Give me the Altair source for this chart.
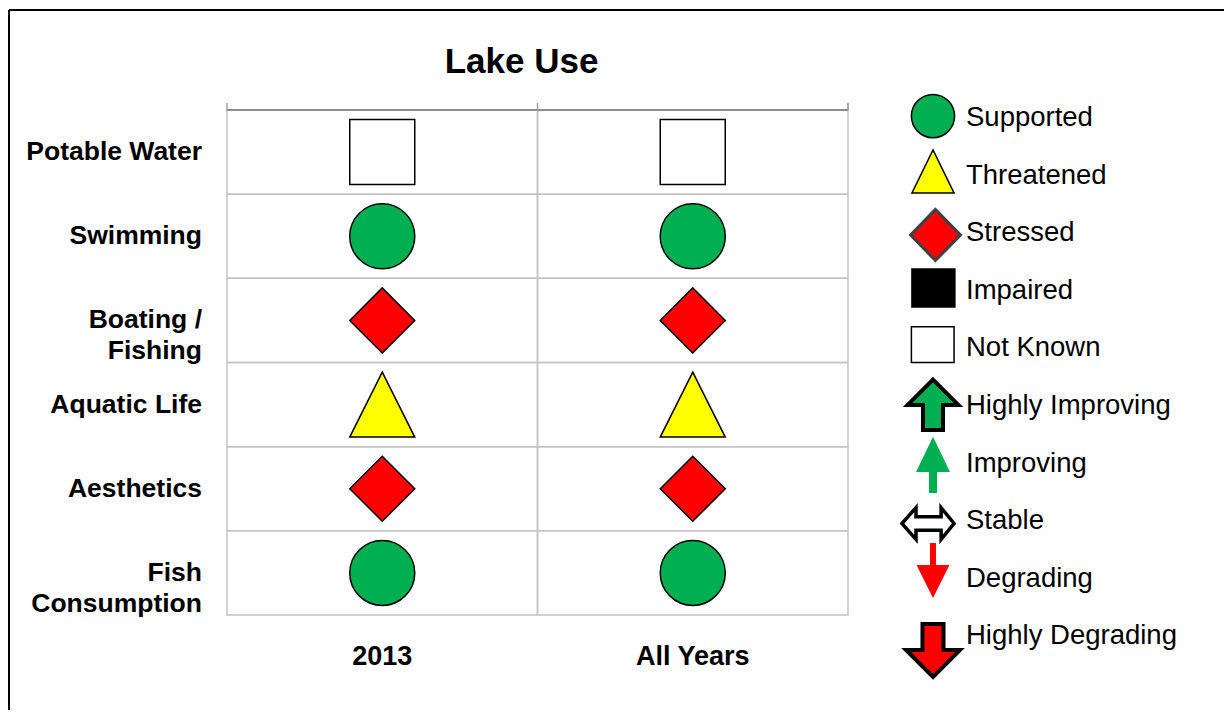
import altair as alt
import pandas as pd

# ---------------- data ----------------
rows = ["Potable Water", "Swimming", "Boating /\nFishing", "Aquatic Life",
        "Aesthetics", "Fish\nConsumption"]
periods = ["2013", "All Years"]
status_2013 = ["Not Known", "Supported", "Stressed", "Threatened", "Stressed", "Supported"]
status_all_years = ["Not Known", "Supported", "Stressed", "Threatened", "Stressed", "Supported"]
statuses = ["Supported", "Threatened", "Stressed", "Impaired", "Not Known"]
trends = ["Highly Improving", "Improving", "Stable", "Degrading", "Highly Degrading"]
legend_items = statuses + trends
chart_title = ["Lake Use"]

cells = pd.DataFrame({
    "row": rows * 2,
    "col": [periods[0]] * len(rows) + [periods[1]] * len(rows),
    "status": status_2013 + status_all_years,
})
row_labels = pd.DataFrame({"row": rows, "col": periods[0]})
col_labels = pd.DataFrame({"col": periods, "row": rows[-1]})
top_edge = pd.DataFrame({"col": periods, "row": rows[0]})
title_df = pd.DataFrame({"title": chart_title, "col": periods[0], "row": rows[0]})
legend_df = pd.DataFrame({"item": legend_items, "anchor": "legend"})

# ---------------- styles ----------------
FONT = "Liberation Sans"
status_colors = ["#00b050", "#ffff00", "#ff0000", "#000000", "#ffffff"]
grid_shapes = ["circle", "M0,-1L1,1L-1,1Z", "diamond", "square", "square"]

legend_shapes = [
    "M-0.8,-0.07A0.8,0.8,0,1,1,0.8,-0.07A0.8,0.8,0,1,1,-0.8,-0.07Z",
    "M0,-0.95L0.78,0.64L-0.78,0.64Z",
    "M0.09,-0.88L1.02,0.07L0.09,1.01L-0.83,0.07Z",
    "M-0.78,-0.81L0.81,-0.81L0.81,0.6L-0.78,0.6Z",
    "M-0.8,-0.8L0.78,-0.8L0.78,0.52L-0.8,0.52Z",
    "M0,-0.98L0.94,-0.04L0.37,-0.04L0.37,0.89L-0.37,0.89L-0.37,-0.04L-0.94,-0.04Z",
    "M0,-0.99L0.63,0.31L0.15,0.31L0.15,1.09L-0.15,1.09L-0.15,0.31L-0.63,0.31Z",
    "M-1.15,0.085L-0.63,-0.5L-0.63,-0.165L0.3,-0.165L0.3,-0.5L0.78,0.085L0.3,0.67L0.3,0.335L-0.63,0.335L-0.63,0.67Z",
    "M-0.11,-1.33L0.11,-1.33L0.11,-0.51L0.61,-0.51L0,0.71L-0.61,-0.51L-0.11,-0.51Z",
    "M-0.39,-0.46L0.39,-0.46L0.39,0.5L1.0,0.5L0,1.5L-1.0,0.5L-0.39,0.5Z",
]
legend_fills = ["#00b050", "#ffff00", "#ff0000", "#000000", "#ffffff",
                "#00b050", "#00b050", "#ffffff", "#ff0000", "#ff0000"]
legend_strokes = ["#000000", "#000000", "#404040", "#000000", "#000000",
                  "#000000", "#00b050", "#000000", "#ff0000", "#000000"]

W, H = 1215, 700
X_RANGE = [218, 839]
Y_RANGE = [100, 605]


def gx(bp=0.5):
    return alt.X("col:N", axis=None, bandPosition=bp,
                 scale=alt.Scale(type="band", domain=periods, range=X_RANGE,
                                 paddingInner=0, paddingOuter=0))


def gy(bp=0.5):
    return alt.Y("row:N", axis=None, bandPosition=bp,
                 scale=alt.Scale(type="band", domain=rows, range=Y_RANGE,
                                 paddingInner=0, paddingOuter=0))


grid_cells = alt.Chart(cells).mark_rect(
    fill="#ffffff", fillOpacity=0, stroke="#c4c4c4", strokeWidth=1.5
).encode(x=gx(), y=gy())

# darker top edge of the table (horizontal segment per column)
top_line = alt.Chart(top_edge).mark_point(
    shape="M-1,0L1,0", size=311 * 311, filled=False, stroke="#8c8c8c",
    strokeWidth=2, opacity=1
).encode(x=gx(0.5), y=gy(0))

# short tick marks above the table at column boundaries
tick_shape = "M0,-2L0,0"
ticks_left = alt.Chart(top_edge).mark_point(
    shape=tick_shape, size=49, filled=False, stroke="#a0a0a0", strokeWidth=1.5, opacity=1
).encode(x=gx(0), y=gy(0))

ticks_right = alt.Chart(top_edge).transform_filter(
    alt.datum.col == periods[-1]
).mark_point(
    shape=tick_shape, size=49, filled=False, stroke="#8c8c8c", strokeWidth=1.5, opacity=1
).encode(x=gx(1), y=gy(0))

symbols = alt.Chart(cells).mark_point(
    filled=True, size=4225, stroke="#000000", strokeWidth=1.5, opacity=1
).encode(
    x=gx(), y=gy(),
    shape=alt.Shape("status:N", legend=None,
                    scale=alt.Scale(domain=statuses, range=grid_shapes)),
    fill=alt.Fill("status:N", legend=None,
                  scale=alt.Scale(domain=statuses, range=status_colors)),
)

row_text = alt.Chart(row_labels).mark_text(
    align="right", baseline="middle", dx=-25, font=FONT, fontSize=26.5,
    fontWeight="bold", color="#000000", lineBreak="\n", lineHeight=31
).encode(x=gx(0), y=gy(), text="row:N")

col_text = alt.Chart(col_labels).mark_text(
    align="center", baseline="middle", dy=42, font=FONT, fontSize=27,
    fontWeight="bold", color="#000000"
).encode(x=gx(), y=gy(1), text="col:N")

title_text = alt.Chart(title_df).mark_text(
    align="center", baseline="middle", dx=-16, dy=-48, font=FONT, fontSize=35,
    fontWeight="bold", color="#000000"
).encode(x=gx(1), y=gy(0), text="title:N")

grid = alt.layer(grid_cells, top_line, ticks_left, ticks_right, symbols,
                 row_text, col_text, title_text)

# ---------------- legend ----------------
lx = alt.X("anchor:N", axis=None,
           scale=alt.Scale(type="point", domain=["legend"], range=[914, 934], padding=0.5))
ly = alt.Y("item:N", axis=None,
           scale=alt.Scale(type="point", domain=legend_items, range=[108, 626.4], padding=0))
lshape = alt.Shape("item:N", legend=None,
                   scale=alt.Scale(domain=legend_items, range=legend_shapes))
lfill = alt.Fill("item:N", legend=None,
                 scale=alt.Scale(domain=legend_items, range=legend_fills))
lstroke = alt.Stroke("item:N", legend=None,
                     scale=alt.Scale(domain=legend_items, range=legend_strokes))


def legend_points(items, width):
    return alt.Chart(legend_df).transform_filter(
        alt.FieldOneOfPredicate(field="item", oneOf=items)
    ).mark_point(
        filled=True, size=2916, strokeWidth=width, opacity=1, strokeJoin="miter"
    ).encode(x=lx, y=ly, shape=lshape, fill=lfill, stroke=lstroke)


legend_labels = alt.Chart(legend_df).mark_text(
    align="left", baseline="middle", dx=33, font=FONT, fontSize=27.5, color="#000000"
).encode(x=lx, y=ly, text="item:N")

legend = alt.layer(
    legend_points(["Supported", "Threatened", "Impaired", "Not Known"], 1.5),
    legend_points(["Stressed"], 3),
    legend_points(["Highly Improving", "Highly Degrading"], 4),
    legend_points(["Stable"], 3.5),
    legend_points(["Improving", "Degrading"], 0),
    legend_labels,
)

chart = alt.layer(grid, legend).resolve_scale(
    x="independent", y="independent", shape="independent",
    fill="independent", stroke="independent"
).properties(
    width=W, height=H,
    autosize=alt.AutoSizeParams(type="none"),
    padding={"left": 1, "top": 2, "right": 0, "bottom": 0},
    background="#ffffff",
).configure_view(
    stroke="#000000", strokeWidth=2, strokeDash=[W, H + W, H, 0]
)

chart.save("out.html", embed_options={"renderer": "svg", "actions": False})
